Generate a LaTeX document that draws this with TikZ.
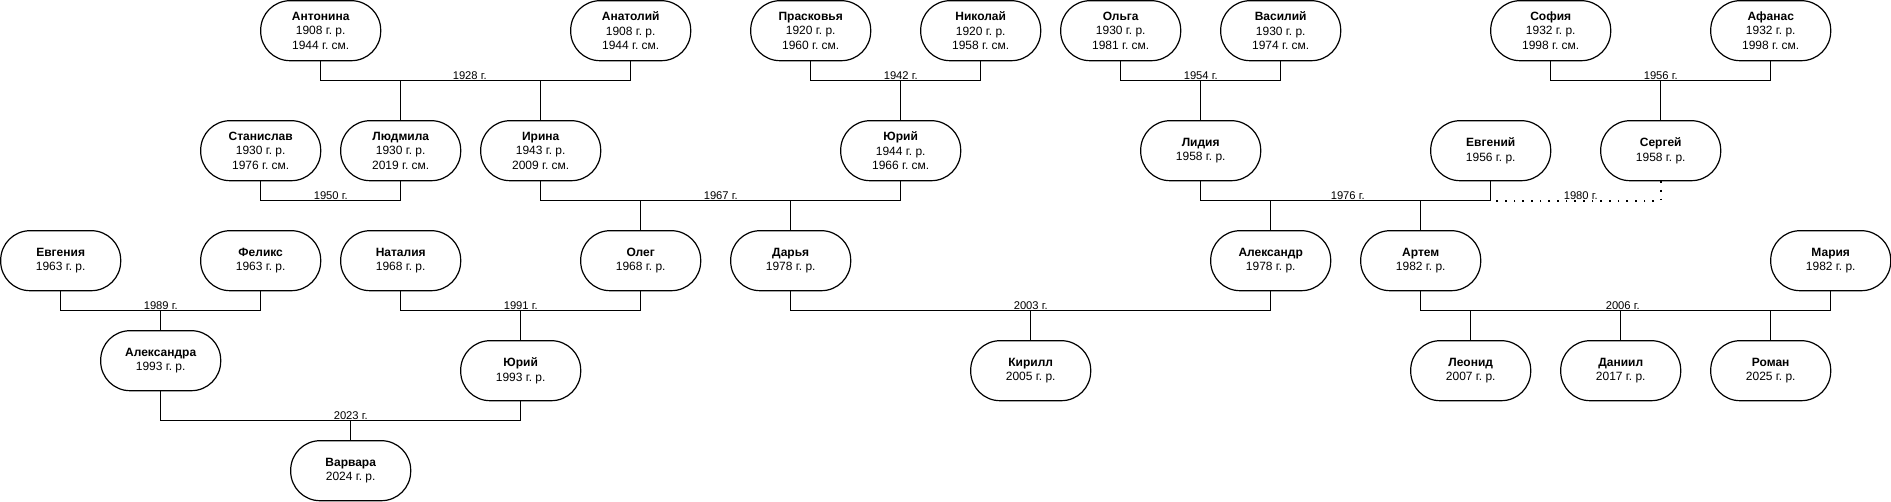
\documentclass[tikz,border=0pt]{standalone}
\usepackage{fontspec}
\setmainfont{Liberation Sans}
\frenchspacing
\tikzset{
  person/.style={draw, line width=0.9pt, rounded corners=22pt, minimum width=90pt, minimum height=45pt,
    inner sep=0pt, align=center, font=\fontsize{9}{10.8}\selectfont},
  link/.style={line width=0.9pt},
  yr/.style={font=\fontsize{8.4}{9}\selectfont, anchor=base, inner sep=0pt},
  dotlink/.style={line width=1.3pt, dash pattern=on 1.3pt off 5.2pt},
}
\begin{document}
\begin{tikzpicture}[x=0.75pt, y=-0.75pt]
\useasboundingbox (0,0) rectangle (1891,502);
\begin{scope}[shift={(0.7,0.7)}]
% Row 1
\node[person] (ant)   at (320,30)  {\bfseries Антонина\\1908 г. р.\\1944 г. см.};
\node[person] (anat)  at (630,30)  {\bfseries Анатолий\\1908 г. р.\\1944 г. см.};
\node[person] (prask) at (810,30)  {\bfseries Прасковья\\1920 г. р.\\1960 г. см.};
\node[person] (nik)   at (980,30)  {\bfseries Николай\\1920 г. р.\\1958 г. см.};
\node[person] (olga)  at (1120,30) {\bfseries Ольга\\1930 г. р.\\1981 г. см.};
\node[person] (vas)   at (1280,30) {\bfseries Василий\\1930 г. р.\\1974 г. см.};
\node[person] (sof)   at (1550,30) {\bfseries София\\1932 г. р.\\1998 г. см.};
\node[person] (afan)  at (1770,30) {\bfseries Афанас\\1932 г. р.\\1998 г. см.};
% Row 2
\node[person] (stan)  at (260,150)  {\bfseries Станислав\\1930 г. р.\\1976 г. см.};
\node[person] (lyud)  at (400,150)  {\bfseries Людмила\\1930 г. р.\\2019 г. см.};
\node[person] (irina) at (540,150)  {\bfseries Ирина\\1943 г. р.\\2009 г. см.};
\node[person] (yuria) at (900,150)  {\bfseries Юрий\\1944 г. р.\\1966 г. см.};
\node[person] (lid)   at (1200,150) {\bfseries Лидия\\1958 г. р.};
\node[person] (evgen) at (1490,150) {\bfseries Евгений\\1956 г. р.};
\node[person] (serg)  at (1660,150) {\bfseries Сергей\\1958 г. р.};
% Row 3
\node[person] (evgenia) at (60,260)   {\bfseries Евгения\\1963 г. р.};
\node[person] (felix)   at (260,260)  {\bfseries Феликс\\1963 г. р.};
\node[person] (natal)   at (400,260)  {\bfseries Наталия\\1968 г. р.};
\node[person] (oleg)    at (640,260)  {\bfseries Олег\\1968 г. р.};
\node[person] (darya)   at (790,260)  {\bfseries Дарья\\1978 г. р.};
\node[person] (alex)    at (1270,260) {\bfseries Александр\\1978 г. р.};
\node[person] (artem)   at (1420,260) {\bfseries Артем\\1982 г. р.};
\node[person] (maria)   at (1830,260) {\bfseries Мария\\1982 г. р.};
% Row 4
\node[person] (alexa) at (160,360)  {\bfseries Александра\\1993 г. р.};
\node[person] (yurib) at (520,370)  {\bfseries Юрий\\1993 г. р.};
\node[person] (kir)   at (1030,370) {\bfseries Кирилл\\2005 г. р.};
\node[person] (leon)  at (1470,370) {\bfseries Леонид\\2007 г. р.};
\node[person] (dan)   at (1620,370) {\bfseries Даниил\\2017 г. р.};
\node[person] (roman) at (1770,370) {\bfseries Роман\\2025 г. р.};
% Row 5
\node[person] (varv)  at (350,470)  {\bfseries Варвара\\2024 г. р.};

% junction coordinates
\coordinate (j1928) at (469,80);
\coordinate (j1942) at (900,80);
\coordinate (j1954) at (1200,80);
\coordinate (j1956) at (1660,80);
\coordinate (j1950) at (330,200);
\coordinate (j1967) at (720,200);
\coordinate (j1976) at (1347,200);
\coordinate (j1980) at (1580,200);
\coordinate (j1989) at (160,310);
\coordinate (j1991) at (520,310);
\coordinate (j2003) at (1030,310);
\coordinate (j2006) at (1622,310);
\coordinate (j2023) at (350,420);

% marriages
\draw[link] (ant.south) -- (ant.south |- j1928) -| (anat.south);
\draw[link] (prask.south) -- (prask.south |- j1942) -| (nik.south);
\draw[link] (olga.south) -- (olga.south |- j1954) -| (vas.south);
\draw[link] (sof.south) -- (sof.south |- j1956) -| (afan.south);
\draw[link] (stan.south) -- (stan.south |- j1950) -| (lyud.south);
\draw[link] (irina.south) -- (irina.south |- j1967) -| (yuria.south);
\draw[link] (lid.south) -- (lid.south |- j1976) -| (evgen.south);
\draw[dotlink] (serg.south) |- (evgen.south |- j1980);
\draw[link] (evgenia.south) -- (evgenia.south |- j1989) -| (felix.south);
\draw[link] (natal.south) -- (natal.south |- j1991) -| (oleg.south);
\draw[link] (darya.south) -- (darya.south |- j2003) -| (alex.south);
\draw[link] (artem.south) -- (artem.south |- j2006) -| (maria.south);
\draw[link] (alexa.south) -- (alexa.south |- j2023) -| (yurib.south);

% children
\draw[link] (lyud.north) -- (lyud.north |- j1928);
\draw[link] (irina.north) -- (irina.north |- j1928);
\draw[link] (yuria.north) -- (yuria.north |- j1942);
\draw[link] (lid.north) -- (lid.north |- j1954);
\draw[link] (serg.north) -- (serg.north |- j1956);
\draw[link] (oleg.north) -- (oleg.north |- j1967);
\draw[link] (darya.north) -- (darya.north |- j1967);
\draw[link] (alex.north) -- (alex.north |- j1976);
\draw[link] (artem.north) -- (artem.north |- j1976);
\draw[link] (alexa.north) -- (alexa.north |- j1989);
\draw[link] (yurib.north) -- (yurib.north |- j1991);
\draw[link] (kir.north) -- (kir.north |- j2003);
\draw[link] (leon.north) -- (leon.north |- j2006);
\draw[link] (dan.north) -- (dan.north |- j2006);
\draw[link] (roman.north) -- (roman.north |- j2006);
\draw[link] (varv.north) -- (varv.north |- j2023);

% year labels
\node[yr] (l1928) at ([yshift=1.2pt]j1928) {1928 г.};
\node[yr] (l1942) at ([yshift=1.2pt]j1942) {1942 г.};
\node[yr] (l1954) at ([yshift=1.2pt]j1954) {1954 г.};
\node[yr] (l1956) at ([yshift=1.2pt]j1956) {1956 г.};
\node[yr] (l1950) at ([yshift=1.2pt]j1950) {1950 г.};
\node[yr] (l1967) at ([yshift=1.2pt]j1967) {1967 г.};
\node[yr] (l1976) at ([yshift=1.2pt]j1976) {1976 г.};
\node[yr] (l1980) at ([yshift=1.2pt]j1980) {1980 г.};
\node[yr] (l1989) at ([yshift=1.2pt]j1989) {1989 г.};
\node[yr] (l1991) at ([yshift=1.2pt]j1991) {1991 г.};
\node[yr] (l2003) at ([yshift=1.2pt]j2003) {2003 г.};
\node[yr] (l2006) at ([yshift=1.2pt]j2006) {2006 г.};
\node[yr] (l2023) at ([yshift=1.2pt]j2023) {2023 г.};
\end{scope}
\end{tikzpicture}
\end{document}
